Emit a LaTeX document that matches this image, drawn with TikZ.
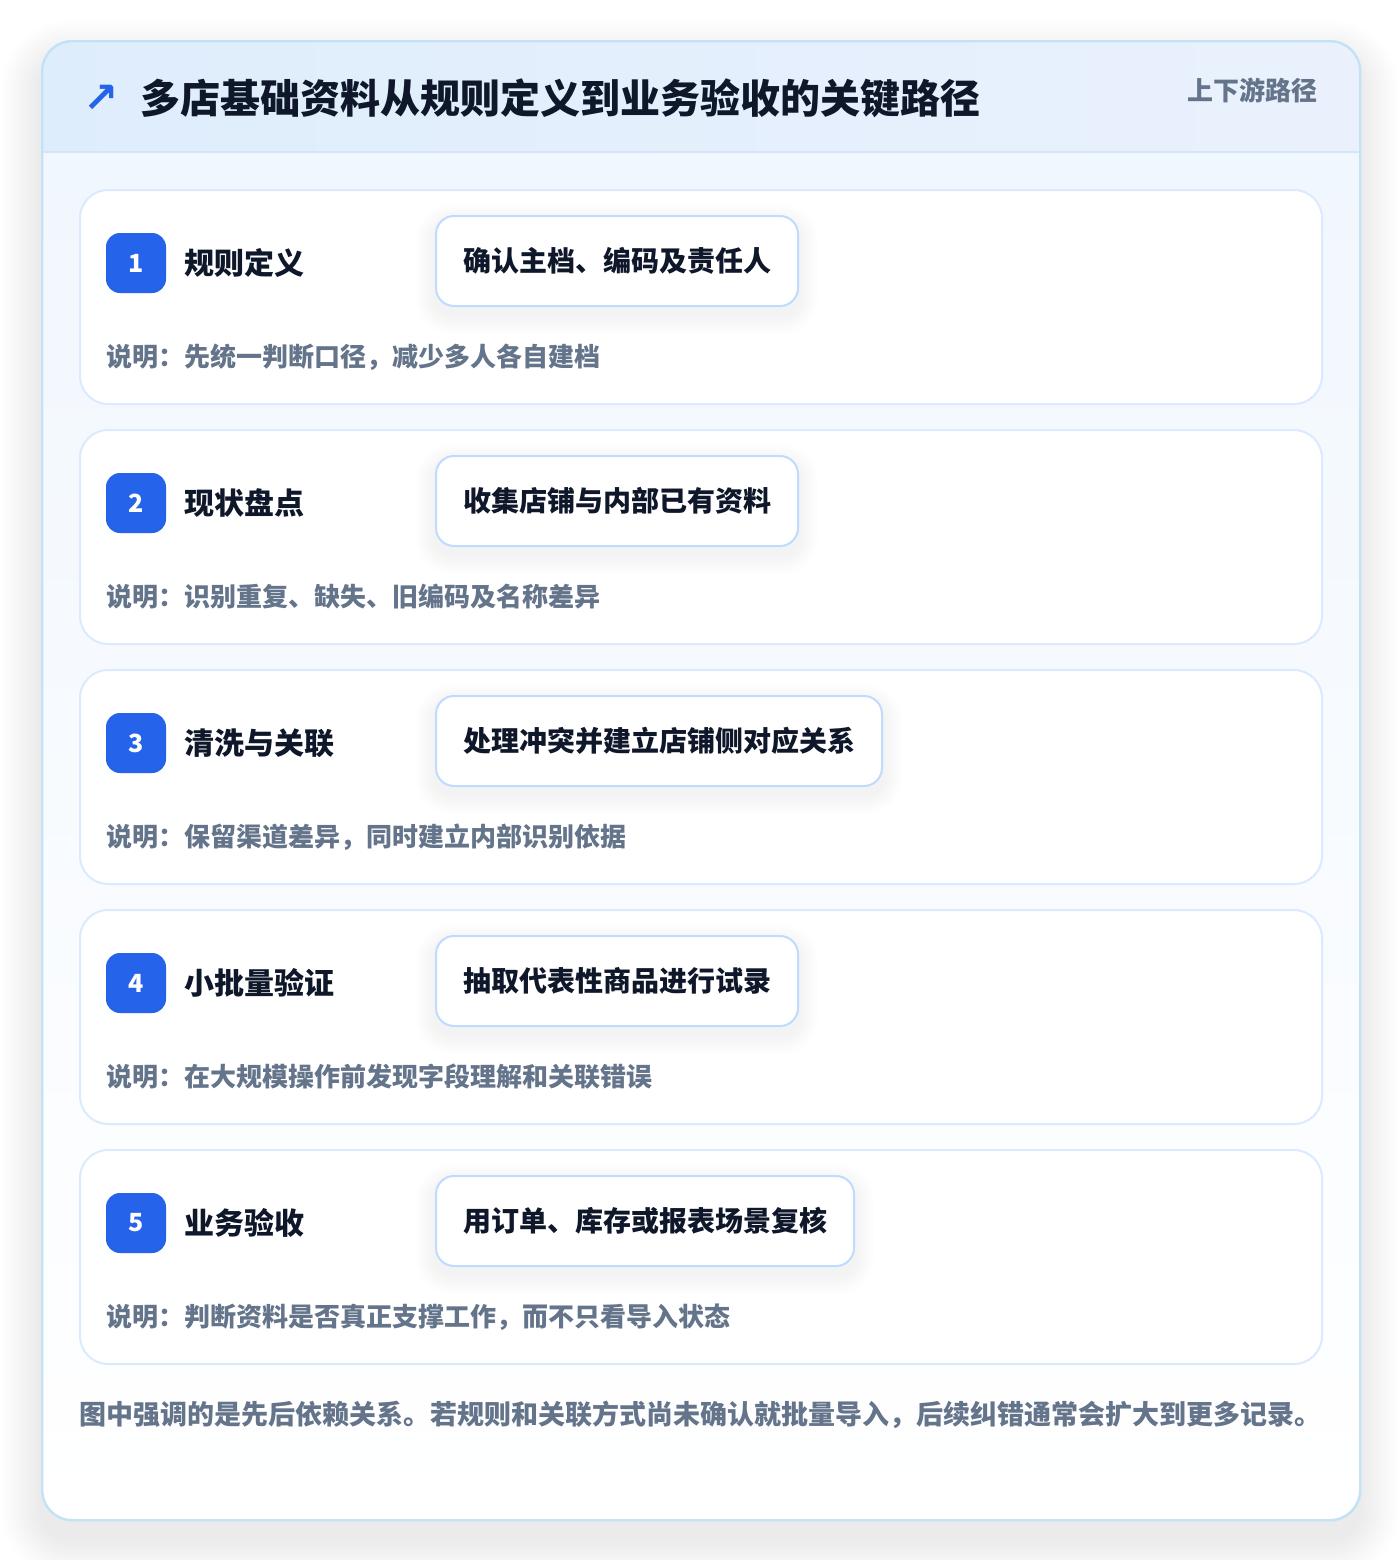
\documentclass[tikz,border=0pt]{standalone}
\usepackage{fontspec}
\setmainfont{Noto Sans CJK SC}
\newfontfamily\symfont{DejaVu Sans}
\usetikzlibrary{calc}
\pgfdeclarelayer{base}
\pgfdeclarelayer{cards}
\pgfdeclarelayer{shad}
\pgfsetlayers{base,cards,shad,main}
\definecolor{ink}{HTML}{0F172A}
\definecolor{slate}{HTML}{64748B}
\definecolor{brand}{HTML}{2563EB}
\definecolor{cardline}{HTML}{DBEAFE}
\definecolor{actline}{HTML}{BFDBFE}
\definecolor{outerline}{HTML}{C3E2F6}
\definecolor{hdrL}{HTML}{DEEDFC}
\definecolor{hdrR}{HTML}{EAF1FD}
\definecolor{hdrline}{HTML}{D5E5F7}
\definecolor{bodyT}{HTML}{F1F7FE}
\tikzset{
  stepcard/.style={draw=cardline, line width=1pt, fill=white, rounded corners=14pt,
    minimum width=621pt, minimum height=107pt, anchor=north west, inner sep=0pt},
  badge/.style={fill=brand, rounded corners=7pt, minimum width=30pt, minimum height=30pt,
    inner sep=0pt, text=white, font=\bfseries\fontsize{12.5}{12.5}\selectfont},
  steptitle/.style={anchor=west, inner sep=0pt, text=ink, font=\bfseries\fontsize{15}{15}\selectfont},
  actbox/.style={anchor=west, draw=actline, line width=1pt, fill=white, rounded corners=9pt,
    inner xsep=13.5pt, inner ysep=0pt, minimum height=45pt, text=ink,
    font=\bfseries\fontsize{14}{14}\selectfont},
  desc/.style={anchor=west, inner sep=0pt, text=slate, font=\bfseries\fontsize{13}{13}\selectfont},
  softshade/.style={fill=black, opacity=0.0045},
}
\begin{document}
\begin{tikzpicture}[x=0.5pt,y=-0.5pt]
\useasboundingbox (0,0) rectangle (1400,1560);
\begin{pgfonlayer}{base}
\fill[white] (0,0) rectangle (1400,1560);
% outer card soft shadow
\foreach \k in {1,...,20}{
  \fill[fill=black, opacity=0.0028, rounded corners=15pt+\k*1pt]
    (41-\k*2,40-\k*2+20) rectangle (1359+\k*2,1519+\k*2+20);
}
\fill[white, rounded corners=15pt] (41,40) rectangle (1359,1519);
\begin{scope}
  \clip[rounded corners=15pt] (41,40) rectangle (1359,1519);
  \shade[left color=hdrL, right color=hdrR] (41,40) rectangle (1359,152);
  \shade[top color=bodyT, bottom color=white] (41,152) rectangle (1359,1519);
  \draw[hdrline, line width=1pt] (41,152) -- (1359,152);
\end{scope}
\node[draw=outerline, line width=1.2pt, rounded corners=15pt, minimum width=659pt,
  minimum height=739.5pt, anchor=north west, inner sep=0pt] (outer) at (41,40) {};
\end{pgfonlayer}
% header
\node[inner sep=0pt, text=brand, font=\symfont\bfseries\fontsize{21}{21}\selectfont] (icon) at (101,99) {↗};
\node[anchor=west, inner sep=0pt, text=ink, font=\bfseries\fontsize{20}{20}\selectfont] (title) at (140,98)
  {多店基础资料从规则定义到业务验收的关键路径};
\node[anchor=east, inner sep=0pt, text=slate, font=\bfseries\fontsize{13}{13}\selectfont] (tag) at (1318,90)
  {上下游路径};
% steps
\foreach \i/\t/\a/\d in {
  1/规则定义/确认主档、编码及责任人/说明：先统一判断口径，减少多人各自建档,
  2/现状盘点/收集店铺与内部已有资料/说明：识别重复、缺失、旧编码及名称差异,
  3/清洗与关联/处理冲突并建立店铺侧对应关系/说明：保留渠道差异，同时建立内部识别依据,
  4/小批量验证/抽取代表性商品进行试录/说明：在大规模操作前发现字段理解和关联错误,
  5/业务验收/用订单、库存或报表场景复核/说明：判断资料是否真正支撑工作，而不只看导入状态}{
  \pgfmathsetmacro{\top}{189+240*(\i-1)}
  \begin{pgfonlayer}{cards}
    \node[stepcard] (card\i) at (79,\top) {};
  \end{pgfonlayer}
  \node[badge] (badge\i) at (136,\top+74) {\i};
  \node[steptitle] (name\i) at (184,\top+74) {\t};
  \node[actbox] (act\i) at (435,\top+72) {\a};
  \node[desc] (desc\i) at (106,\top+168) {\d};
  \begin{pgfonlayer}{shad}
    \foreach \k in {1,...,12}{
      \fill[softshade, rounded corners=9pt+\k*0.8pt]
        ($(act\i.south west)+(-\k*1.6,\k*1.6+8)$) rectangle ($(act\i.north east)+(\k*1.6,-\k*1.6+8)$);
    }
  \end{pgfonlayer}
}
% footer
\node[anchor=west, inner sep=0pt, text=slate, font=\bfseries\fontsize{13.5}{13.5}\selectfont] (note) at (79,1415)
  {图中强调的是先后依赖关系。若规则和关联方式尚未确认就批量导入，后续纠错通常会扩大到更多记录。};
\end{tikzpicture}
\end{document}
